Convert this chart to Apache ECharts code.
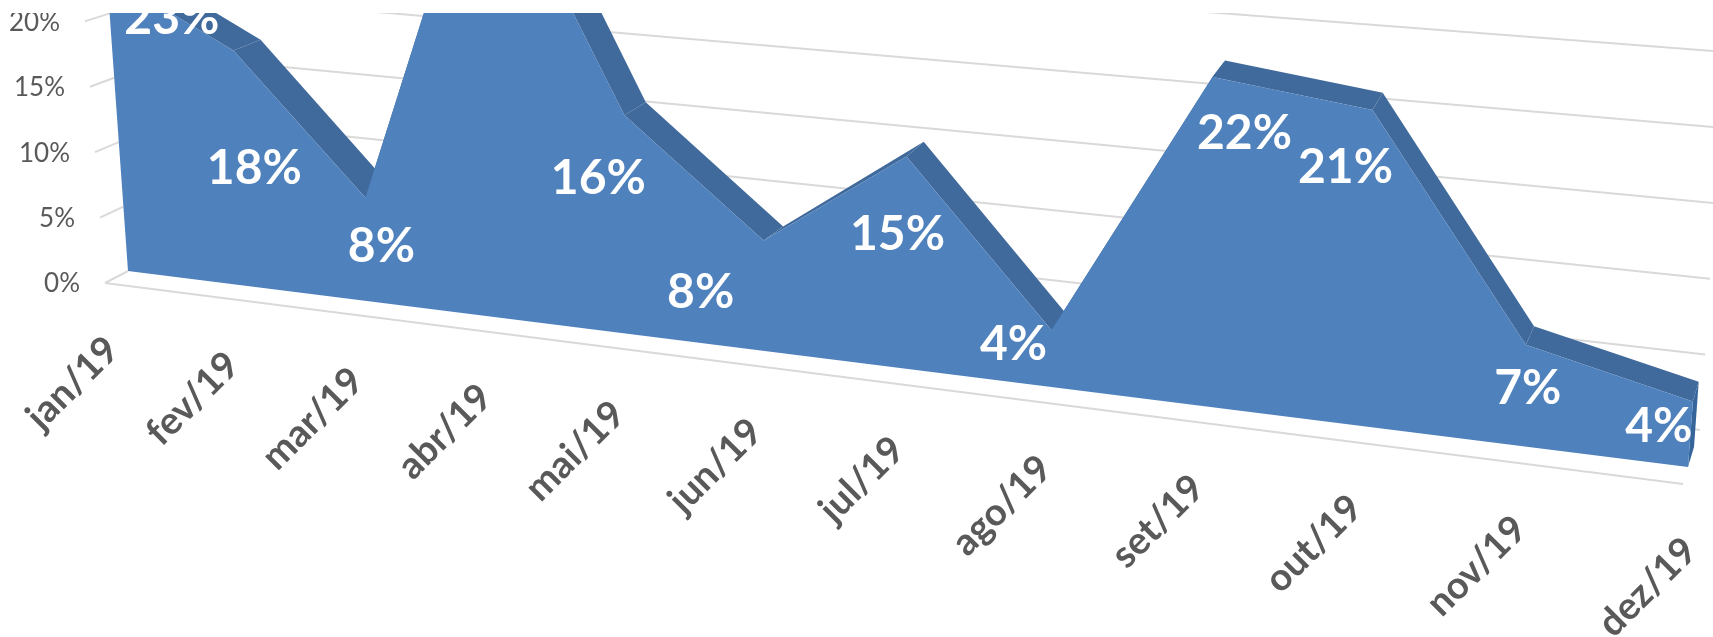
<!DOCTYPE html>
<html>
<head>
<meta charset="utf-8">
<title>chart</title>
<script src="https://cdn.jsdelivr.net/npm/echarts@6/dist/echarts.min.js"></script>
<style>
  html, body { margin: 0; padding: 0; background: #fff; }
  #chart { width: 1713px; height: 637px; }
</style>
</head>
<body>
<div id="chart"></div>
<script>
var categories = ["jan/19", "fev/19", "mar/19", "abr/19", "mai/19", "jun/19", "jul/19", "ago/19", "set/19", "out/19", "nov/19", "dez/19"];
var seriesValues = [23, 18, 7.8, 36, 15.9, 7.9, 14.9, 3.9, 22.3, 21, 6.6, 4.2];
var yTicks = [0, 5, 10, 15, 20, 25];

var W = 1713, H = 637, yMax = 40;
var FONT = "Lato";

// the 3D look: each plane is the grid warped onto 4 corners (bottom left, bottom right, top left, top right at 25%)
var frontPlane = warp([128, 271], [1688, 467], [105, -51], [1717, 77]);
var backPlane = warp([157, 261], [1694, 447], [134, -61], [1722, 58]);
var wallPlane = warp([150, 239], [1700, 430], [128, -71], [1725, 52]);
var floorPlane = warp([105, 283], [1683, 484], [80, -44], [1712, 94]);

function warp(bl, br, tl, tr) {
  var wL = 1.21, wR = 1;
  return function (p) {
    var t = p[0] / W;
    var s = (H - p[1]) / H * (yMax / 25);
    var lx = bl[0] + (tl[0] - bl[0]) * s, ly = bl[1] + (tl[1] - bl[1]) * s;
    var rx = br[0] + (tr[0] - br[0]) * s, ry = br[1] + (tr[1] - br[1]) * s;
    var a = (1 - t) * wL, b = t * wR;
    return [(lx * a + rx * b) / (a + b), (ly * a + ry * b) / (a + b)];
  };
}

// where each value label sits, relative to its point
var labelNudge = [[65, 44], [21, 118], [16, 49], [0, 0], [-26, 63], [-63, 52], [-9, 78], [-38, 14], [32, 57], [-27, 58], [2, 44], [-34, 25]];

function seg(a, b, color) {
  return { type: "line", shape: { x1: a[0], y1: a[1], x2: b[0], y2: b[1] }, style: { stroke: color, lineWidth: 2 } };
}

function poly(points, color) {
  return { type: "polygon", shape: { points: points }, style: { fill: color } };
}

var monthData = categories.map(function (c, i) { return [i, seriesValues[i]]; });
var tickData = yTicks.map(function (v) { return [0, v]; });
var last = categories.length - 1;

var option = {
  animation: false,
  graphic: [{
    type: "rect", z: 100, silent: true,
    shape: { x: 0, y: 0, width: W, height: 13 },
    style: { fill: "#fff" }
  }],
  grid: { left: 0, top: 0, width: W, height: H },
  xAxis: { type: "category", show: false, boundaryGap: false, data: categories },
  yAxis: { type: "value", show: false, min: 0, max: yMax },
  series: [
    { // gridlines on the back wall + stubs and labels on the left
      type: "custom", silent: true, data: tickData,
      renderItem: function (params, api) {
        var v = api.value(1);
        var out = [
          seg(wallPlane(api.coord([0, v])), wallPlane(api.coord([last, v])), "#d9d9d9"),
          seg(floorPlane(api.coord([0, v])), frontPlane(api.coord([0, v])), "#d9d9d9")
        ];
        var p = floorPlane(api.coord([0, v]));
        out.push({
          type: "text", x: p[0] - 25, y: p[1] + 1,
          style: { text: v + "%", font: "26px " + FONT, fill: "#595959", align: "right", verticalAlign: "middle" }
        });
        return { type: "group", children: out };
      }
    },
    { // floor edge and the month labels
      type: "custom", silent: true, data: monthData,
      renderItem: function (params, api) {
        var i = params.dataIndex;
        var p = floorPlane(api.coord([i, 0]));
        var out = [{
          type: "text", x: p[0] - 6, y: p[1] + 47, rotation: Math.PI / 4,
          style: { text: categories[i], font: "bold 38px " + FONT, fill: "#595959", align: "right", verticalAlign: "top" }
        }];
        if (i == 0) out.push(seg(p, floorPlane(api.coord([last, 0])), "#d9d9d9"));
        return { type: "group", children: out };
      }
    },
    { // dark side of the area
      type: "custom", silent: true, data: monthData,
      renderItem: function (params, api) {
        var i = params.dataIndex;
        var a = api.coord([i, seriesValues[i]]);
        if (i == last) {
          var z = api.coord([i, 0]);
          return poly([frontPlane(a), backPlane(a), backPlane(z), frontPlane(z)], "#36659c");
        }
        var b = api.coord([i + 1, seriesValues[i + 1]]);
        return poly([frontPlane(a), frontPlane(b), backPlane(b), backPlane(a)], "#416a9c");
      }
    },
    { // front face
      type: "custom", silent: true, data: [[0, 0]],
      renderItem: function (params, api) {
        var pts = [frontPlane(api.coord([0, 0]))];
        seriesValues.forEach(function (v, i) { pts.push(frontPlane(api.coord([i, v]))); });
        pts.push(frontPlane(api.coord([last, 0])));
        return poly(pts, "#4f81bd");
      }
    },
    { // value labels
      type: "custom", silent: true, data: monthData,
      renderItem: function (params, api) {
        var i = params.dataIndex;
        var p = frontPlane(api.coord([i, api.value(1)]));
        return {
          type: "text", x: p[0] + labelNudge[i][0], y: p[1] + labelNudge[i][1],
          style: { text: Math.round(api.value(1)) + "%", font: "bold 48px " + FONT, fill: "#fff", align: "center", verticalAlign: "middle" }
        };
      }
    }
  ]
};

var chart = echarts.init(document.getElementById("chart"));
chart.setOption(option);
</script>
</body>
</html>
